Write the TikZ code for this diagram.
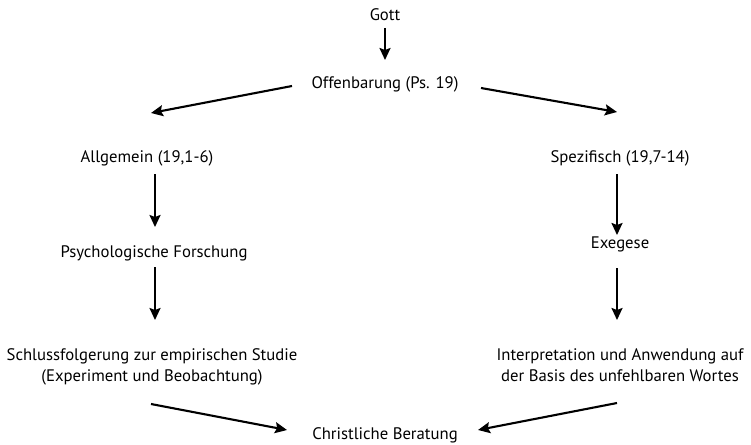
\documentclass[tikz,border=0pt]{standalone}
\usepackage{fontspec}
\setmainfont{PT Sans}
\usetikzlibrary{arrows.meta, calc, positioning}

\begin{document}
\begin{tikzpicture}[
  x=1pt, y=-1pt,
  font=\fontsize{16.7}{21}\selectfont,
  txt/.style={inner sep=0pt, anchor=base, align=center},
  pfeil/.style={line width=2.1pt, -{Stealth[inset=2pt, length=12pt, width=11pt]}}
]

% --- Canvas (751 x 444) ---
\useasboundingbox (0,0) rectangle (751,444);

\def\xL{154}   % left column
\def\xR{620}   % right column
\def\xM{385}   % middle

% --- Nodes (placed at their baselines) ---
\node[txt] (gott) at (\xM,21)  {Gott};
\node[txt] (offb) at (\xM,88)  {Offenbarung (Ps. 19)};

\node[txt] (allg) at (147,162) {Allgemein (19,1-6)};
\node[txt] (spez) at (\xR,162) {Spezifisch (19,7-14)};

\node[txt] (psych) at (\xL,257) {Psychologische Forschung};
\node[txt] (exeg)  at (\xR,248) {Exegese};

% two-line nodes: base = last line
\node[txt] (schl) at (152,381) {Schlussfolgerung zur empirischen Studie\\(Experiment und Beobachtung)};
\node[txt] (intp) at (\xR,381) {Interpretation und Anwendung auf\\der Basis des unfehlbaren Wortes};

\node[txt] (chr) at (\xM,439) {Christliche Beratung};

% --- Arrows ---
\draw[pfeil] ([yshift=-7pt]gott.base) -- ([yshift=28pt]offb.base);

\draw[pfeil] ([xshift=-93pt,yshift=2pt]offb.base) -- ([xshift=4pt,yshift=49pt]allg.base);
\draw[pfeil] ([xshift=96pt]offb.base) -- ([xshift=-3pt,yshift=50pt]spez.base);

\draw[pfeil] ([xshift=8pt,yshift=-12pt]allg.base) -- ([xshift=1pt,yshift=30pt]psych.base);
\draw[pfeil] ([xshift=-3pt,yshift=-12pt]spez.base) -- ([xshift=-3pt,yshift=13pt]exeg.base);

\draw[pfeil] ([xshift=1pt,yshift=-10pt]psych.base) -- ([xshift=3pt,yshift=61pt]schl.base);
\draw[pfeil] ([xshift=-3pt,yshift=-20pt]exeg.base) -- ([xshift=-3pt,yshift=61pt]intp.base);

\draw[pfeil] ([xshift=-1pt,yshift=-23pt]schl.base) -- ([xshift=-98pt,yshift=9pt]chr.base);
\draw[pfeil] ([xshift=-3pt,yshift=-22pt]intp.base) -- ([xshift=93pt,yshift=9pt]chr.base);

\end{tikzpicture}
\end{document}
